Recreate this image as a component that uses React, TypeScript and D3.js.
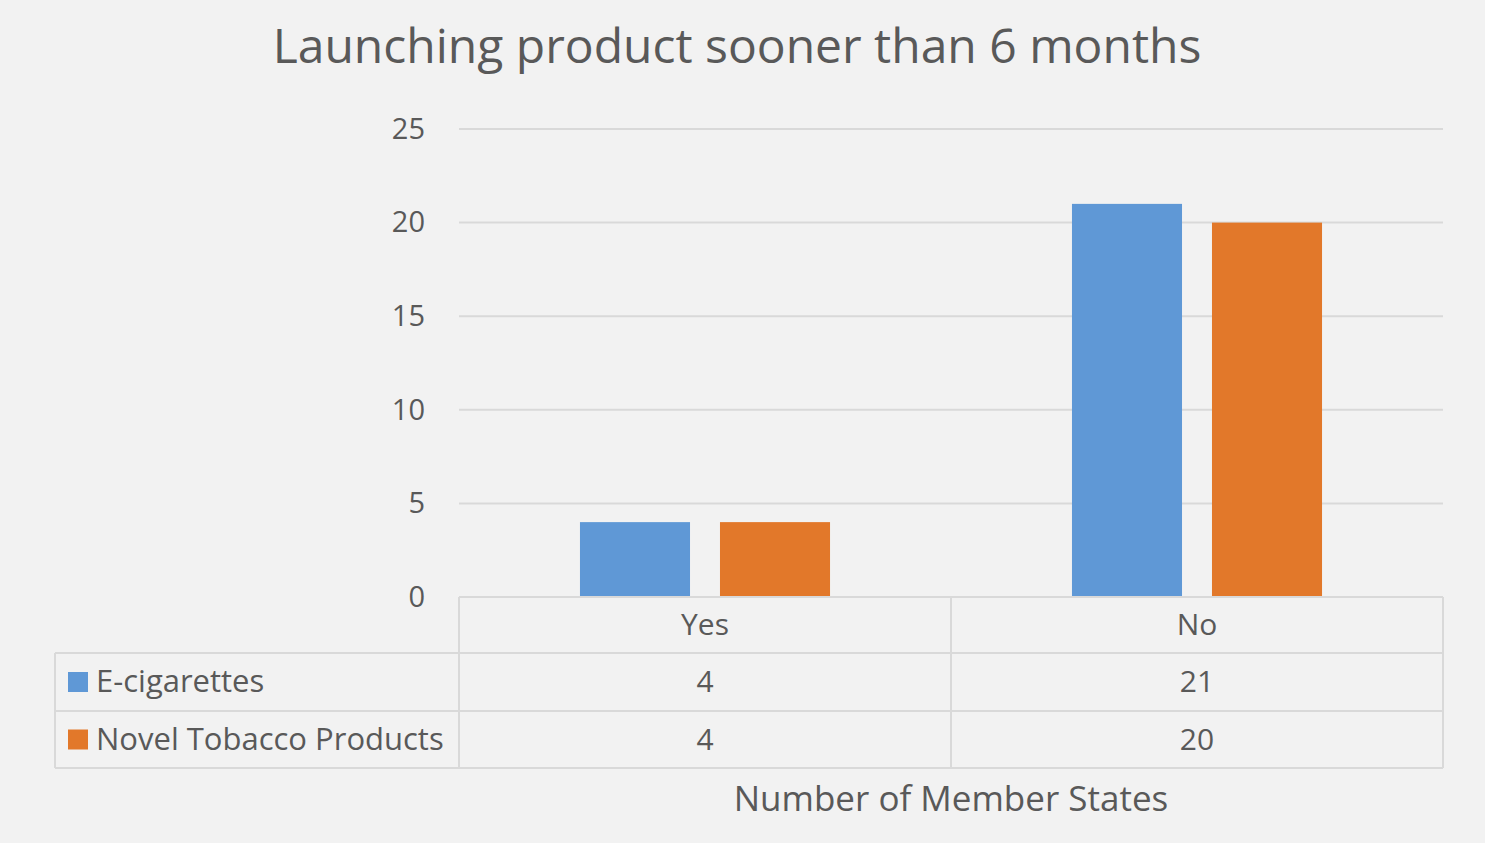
import React from 'react';
import * as d3 from 'd3';

const categories = ['Yes', 'No'];
const seriesNames = ['E-cigarettes', 'Novel Tobacco Products'];
const eCigarettes = [4, 21];
const novelTobacco = [4, 20];
const yTicks = [0, 5, 10, 15, 20, 25];

const colors = ['#5f98d6', '#e2782a'];
const textColor = '#595959';
const gridColor = '#d9d9d9';
const font = '"Open Sans", sans-serif';

export default function App() {
  const width = 1485;
  const height = 843;
  const plot = { left: 459, right: 1443, top: 129, bottom: 597 };
  const tableLeft = 55;
  const rowH = [56, 58, 57];

  const y = d3.scaleLinear().domain([0, 25]).range([plot.bottom, plot.top]);
  const x0 = d3.scaleBand<string>().domain(categories).range([plot.left, plot.right]).padding(0);
  const x1 = d3
    .scaleBand<string>()
    .domain(seriesNames)
    .range([0, x0.bandwidth()])
    .paddingInner(0.214)
    .paddingOuter(0.864);

  const values = [eCigarettes, novelTobacco];

  const rowTops = [plot.bottom, plot.bottom + rowH[0], plot.bottom + rowH[0] + rowH[1]];
  const tableBottom = rowTops[2] + rowH[2];

  return (
    <svg
      width={width}
      height={height}
      style={{ position: 'absolute', left: 0, top: 0, background: '#f2f2f2' }}
      fontFamily={font}
    >
      <rect width={width} height={height} fill="#f2f2f2" />
      <text x={737} y={50} textAnchor="middle" dominantBaseline="middle" fontSize={48} fill={textColor}>
        Launching product sooner than 6 months
      </text>

      {/* gridlines + y ticks */}
      {yTicks.map((t) => (
        <g key={t}>
          {t > 0 && (
            <line x1={plot.left} x2={plot.right} y1={y(t)} y2={y(t)} stroke={gridColor} strokeWidth={2} />
          )}
          <text x={425} y={y(t) + 2} textAnchor="end" dominantBaseline="middle" fontSize={29} fill={textColor}>
            {t}
          </text>
        </g>
      ))}

      {/* bars */}
      {categories.map((c, ci) =>
        seriesNames.map((s, si) => (
          <rect
            key={c + s}
            x={(x0(c) ?? 0) + (x1(s) ?? 0)}
            y={y(values[si][ci])}
            width={x1.bandwidth()}
            height={plot.bottom - y(values[si][ci])}
            fill={colors[si]}
          />
        ))
      )}

      {/* data table */}
      <g stroke={gridColor} strokeWidth={2}>
        <line x1={plot.left} x2={plot.right} y1={rowTops[0]} y2={rowTops[0]} />
        <line x1={tableLeft} x2={plot.right} y1={rowTops[1]} y2={rowTops[1]} />
        <line x1={tableLeft} x2={plot.right} y1={rowTops[2]} y2={rowTops[2]} />
        <line x1={tableLeft} x2={plot.right} y1={tableBottom} y2={tableBottom} />
        <line x1={tableLeft} x2={tableLeft} y1={rowTops[1]} y2={tableBottom} />
        {[...categories.map((c) => x0(c) ?? 0), plot.right].map((xx, i) => (
          <line key={i} x1={xx} x2={xx} y1={rowTops[0]} y2={tableBottom} />
        ))}
      </g>

      {categories.map((c) => (
        <text
          key={c}
          x={(x0(c) ?? 0) + x0.bandwidth() / 2}
          y={rowTops[0] + rowH[0] / 2 + 2}
          textAnchor="middle"
          dominantBaseline="middle"
          fontSize={30}
          fill={textColor}
        >
          {c}
        </text>
      ))}

      {seriesNames.map((s, si) => {
        const cy = rowTops[si + 1] + rowH[si + 1] / 2;
        return (
          <g key={s}>
            <rect x={68} y={cy - 10} width={20} height={20} fill={colors[si]} />
            <text x={96} y={cy + 2} dominantBaseline="middle" fontSize={31} fill={textColor}>
              {s}
            </text>
            {categories.map((c, ci) => (
              <text
                key={c}
                x={(x0(c) ?? 0) + x0.bandwidth() / 2}
                y={cy + 2}
                textAnchor="middle"
                dominantBaseline="middle"
                fontSize={30}
                fill={textColor}
              >
                {values[si][ci]}
              </text>
            ))}
          </g>
        );
      })}

      <text x={951} y={802} textAnchor="middle" dominantBaseline="middle" fontSize={35} fill={textColor}>
        Number of Member States
      </text>
    </svg>
  );
}
